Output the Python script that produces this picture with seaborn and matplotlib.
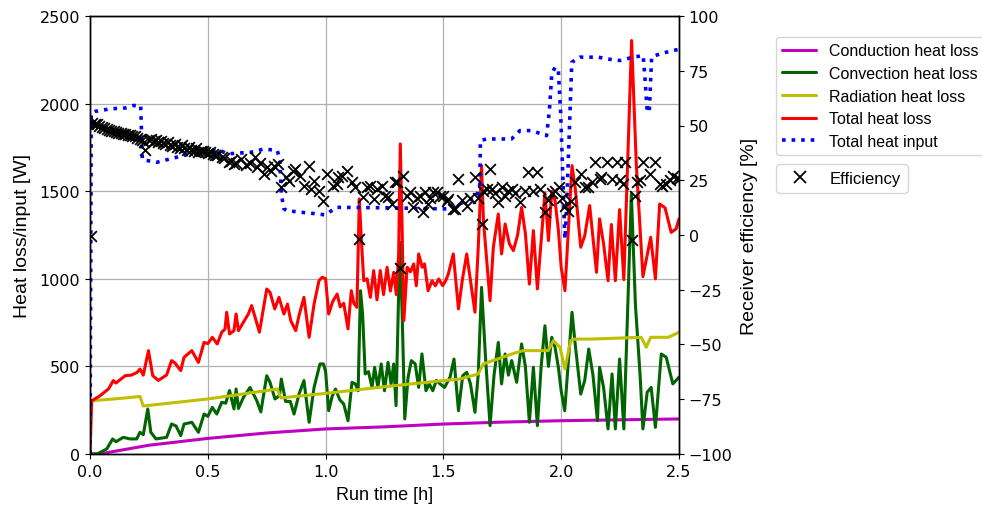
import matplotlib
matplotlib.use('Agg')
import matplotlib.pyplot as plt
import seaborn as sns
from matplotlib.lines import Line2D

# ---- data ----
t_cond = [0, 0.04, 0.25, 0.5, 0.75, 1.0, 1.25, 1.5, 1.75, 2.0, 2.25, 2.5]
w_cond = [0, 0, 50, 89, 120, 143, 155, 171, 182, 190, 195, 200]

t_conv = [0.0, 0.03, 0.071, 0.096, 0.11, 0.141, 0.17, 0.198, 0.212, 0.226, 0.245, 0.258, 0.28, 0.325,
          0.346, 0.365, 0.385, 0.399, 0.432, 0.46, 0.484, 0.5, 0.519, 0.538, 0.559, 0.576, 0.592, 0.611,
          0.62, 0.63, 0.651, 0.679, 0.708, 0.725, 0.75, 0.764, 0.785, 0.804, 0.812, 0.83, 0.85, 0.866,
          0.887, 0.908, 0.93, 0.951, 0.976, 0.991, 1.0, 1.013, 1.028, 1.042, 1.06, 1.077, 1.095, 1.112,
          1.126, 1.138, 1.148, 1.157, 1.168, 1.182, 1.197, 1.208, 1.222, 1.236, 1.25, 1.265, 1.278,
          1.289, 1.299, 1.315, 1.325, 1.336, 1.35, 1.364, 1.38, 1.395, 1.409, 1.426, 1.44, 1.455, 1.47,
          1.486, 1.505, 1.528, 1.545, 1.564, 1.582, 1.599, 1.615, 1.634, 1.648, 1.662, 1.678, 1.698,
          1.715, 1.733, 1.747, 1.762, 1.776, 1.79, 1.811, 1.832, 1.848, 1.865, 1.882, 1.899, 1.915,
          1.931, 1.946, 1.96, 1.974, 1.988, 2.0, 2.015, 2.046, 2.06, 2.083, 2.1, 2.117, 2.135, 2.154,
          2.163, 2.18, 2.199, 2.216, 2.23, 2.248, 2.266, 2.298, 2.315, 2.335, 2.347, 2.365, 2.382, 2.4,
          2.425, 2.446, 2.474, 2.5]
w_conv = [0, 0, 29, 86, 70, 95, 86, 86, 124, 110, 257, 124, 86, 95,
          171, 160, 105, 171, 181, 124, 228, 215, 266, 228, 295, 290, 362, 257,
          371, 260, 323, 380, 304, 240, 447, 409, 314, 333, 428, 300, 300, 228,
          342, 419, 181, 380, 514, 514, 470, 247, 330, 371, 310, 285, 190, 409,
          400, 361, 932, 799, 457, 470, 380, 495, 380, 514, 361, 523, 400,
          514, 276, 1208, 799, 200, 438, 533, 515, 380, 571, 361, 400, 361, 420,
          400, 380, 438, 542, 247, 447, 466, 400, 238, 457, 951, 570, 162,
          450, 637, 400, 571, 450, 533, 409, 628, 500, 181, 495, 162, 500,
          732, 500, 666, 609, 495, 361, 247, 809, 620, 342, 420, 599, 450, 190,
          495, 380, 143, 457, 143, 542, 143, 1484, 856, 450, 143, 352, 380, 152,
          571, 552, 400, 438]

t_rad = [0.007, 0.1, 0.212, 0.226, 0.5, 0.795, 0.81, 1.0, 1.25, 1.5, 1.57, 1.648, 1.669, 1.811,
         1.839, 1.945, 1.967, 1.995, 2.016, 2.04, 2.058, 2.128, 2.34, 2.361, 2.38, 2.455, 2.5]
w_rad = [304, 314, 328, 274, 314, 371, 320, 346, 384, 419, 428, 457, 514, 580,
         590, 590, 647, 609, 485, 647, 656, 656, 666, 609, 666, 666, 695]

t_total = [0.0, 0.007, 0.04, 0.078, 0.099, 0.11, 0.149, 0.175, 0.2, 0.212, 0.226, 0.248, 0.266, 0.29,
           0.325, 0.346, 0.36, 0.385, 0.399, 0.432, 0.46, 0.484, 0.5, 0.519, 0.54, 0.559, 0.573, 0.58,
           0.592, 0.611, 0.62, 0.63, 0.651, 0.672, 0.686, 0.705, 0.719, 0.75, 0.764, 0.784, 0.802,
           0.823, 0.838, 0.852, 0.873, 0.887, 0.908, 0.93, 0.951, 0.972, 0.986, 1.0, 1.013, 1.03,
           1.049, 1.062, 1.077, 1.095, 1.109, 1.12, 1.133, 1.143, 1.152, 1.162, 1.176, 1.19, 1.204,
           1.218, 1.232, 1.246, 1.261, 1.275, 1.289, 1.3, 1.31, 1.317, 1.325, 1.332, 1.346, 1.36,
           1.374, 1.385, 1.395, 1.41, 1.42, 1.435, 1.452, 1.466, 1.48, 1.497, 1.51, 1.521, 1.542,
           1.564, 1.58, 1.599, 1.615, 1.634, 1.648, 1.662, 1.67, 1.698, 1.712, 1.733, 1.747, 1.762,
           1.78, 1.797, 1.815, 1.832, 1.848, 1.865, 1.882, 1.899, 1.915, 1.931, 1.946, 1.96, 1.974,
           1.988, 2.0, 2.016, 2.046, 2.06, 2.083, 2.1, 2.121, 2.15, 2.163, 2.18, 2.199, 2.213, 2.23,
           2.248, 2.266, 2.299, 2.319, 2.347, 2.38, 2.4, 2.418, 2.441, 2.467, 2.488, 2.5]
w_total = [0, 304, 330, 371, 419, 405, 447, 450, 466, 485, 450, 590, 447, 420,
           451, 533, 520, 476, 552, 590, 523, 637, 630, 666, 628, 695, 713, 809,
           685, 704, 799, 704, 751, 799, 847, 761, 695, 942, 923, 828, 894,
           799, 856, 761, 704, 790, 894, 666, 856, 990, 1009, 1000, 799, 870,
           913, 840, 860, 714, 932, 860, 837, 1456, 1218, 989, 1000, 894, 1047,
           880, 1047, 910, 1066, 930, 1037, 910, 1142, 1770, 1275, 761, 1066, 1040,
           1085, 960, 1142, 1066, 1085, 932, 989, 960, 999, 961, 990, 1028, 1142,
           828, 990, 1142, 990, 809, 1180, 1646, 1332, 875, 1180, 1370, 1142, 1313,
           1200, 1161, 1250, 1408, 1260, 970, 1275, 942, 1218, 1490, 1218, 1500, 1446,
           1280, 1066, 932, 1646, 1513, 1180, 1246, 1418, 1037, 1342, 1200, 989, 1310, 989,
           1395, 995, 2360, 1650, 1012, 1237, 1000, 1427, 1405, 1265, 1285, 1342]

t_input = [0.0, 0.005, 0.02, 0.085, 0.15, 0.184, 0.215, 0.222, 0.283, 0.368, 0.453, 0.552, 0.583,
           0.682, 0.739, 0.795, 0.806, 0.812, 0.823, 0.835, 0.894, 0.934, 0.998, 1.047, 1.268, 1.497,
           1.528, 1.599, 1.641, 1.655, 1.657, 1.683, 1.789, 1.825, 1.874, 1.938, 1.95, 1.96, 1.974,
           1.988, 1.998, 2.016, 2.023, 2.045, 2.08, 2.158, 2.193, 2.25, 2.306, 2.348, 2.355, 2.365,
           2.374, 2.384, 2.419, 2.476, 2.5]
w_input = [0, 1945, 1955, 1970, 1975, 1989, 1989, 1680, 1665, 1694, 1722, 1732, 1713,
           1722, 1741, 1732, 1675, 1484, 1400, 1389, 1380, 1375, 1365, 1408, 1405, 1399,
           1400, 1446, 1465, 1541, 1789, 1798, 1798, 1846, 1846, 1817, 1960, 2169, 2208,
           2190, 1941, 1227, 1399, 2236, 2265, 2265, 2255, 2246, 2265, 2274, 2160, 1960,
           1950, 2265, 2284, 2303, 2310]

t_eff = [0.005, 0.01, 0.02, 0.03, 0.04, 0.05, 0.06, 0.07, 0.08, 0.09, 0.1, 0.11, 0.12, 0.13, 0.14,
         0.15, 0.16, 0.17, 0.18, 0.19, 0.2, 0.21, 0.22, 0.23, 0.235, 0.25, 0.26, 0.27, 0.28, 0.29,
         0.3, 0.31, 0.32, 0.33, 0.34, 0.35, 0.36, 0.37, 0.38, 0.39, 0.4, 0.41, 0.42, 0.43, 0.44, 0.45,
         0.46, 0.47, 0.48, 0.49, 0.5, 0.51, 0.52, 0.53, 0.54, 0.56, 0.57, 0.59, 0.6, 0.61, 0.62, 0.64,
         0.66, 0.68, 0.7, 0.71, 0.72, 0.74, 0.75, 0.77, 0.78, 0.8, 0.81, 0.83, 0.845, 0.86, 0.87,
         0.89, 0.91, 0.93, 0.94, 0.95, 0.97, 0.99, 1.006, 1.033, 1.049, 1.054, 1.07, 1.091, 1.11,
         1.126, 1.143, 1.16, 1.175, 1.189, 1.204, 1.22, 1.238, 1.25, 1.266, 1.282, 1.296, 1.302,
         1.316, 1.33, 1.345, 1.358, 1.373, 1.39, 1.402, 1.415, 1.42, 1.435, 1.445, 1.457, 1.473,
         1.486, 1.5, 1.514, 1.521, 1.542, 1.55, 1.563, 1.58, 1.599, 1.615, 1.634, 1.648, 1.662,
         1.67, 1.685, 1.698, 1.705, 1.72, 1.733, 1.747, 1.76, 1.775, 1.79, 1.805, 1.825, 1.845,
         1.86, 1.88, 1.896, 1.91, 1.931, 1.945, 1.96, 1.974, 1.992, 2.005, 2.015, 2.03, 2.043,
         2.06, 2.085, 2.1, 2.115, 2.13, 2.142, 2.165, 2.171, 2.193, 2.214, 2.235, 2.248, 2.264,
         2.271, 2.299, 2.315, 2.32, 2.335, 2.349, 2.376, 2.398, 2.419, 2.43, 2.445, 2.46, 2.476,
         2.49, 2.5]
e_eff = [-0.3, 51, 50.5, 50.5, 50, 49.5, 49, 48.5, 48, 47.5, 47.5, 47, 46.5, 46.5, 46,
         46, 45.5, 45.5, 45, 45, 44.5, 44, 43.5, 42.5, 39, 43.5, 44, 43, 43.5, 42.5,
         43, 42, 41.5, 42.5, 41, 40.5, 41.5, 40, 39.5, 41, 39.5, 39, 40, 39, 38.5, 39.5,
         38, 38.5, 38.5, 38, 37.5, 38, 37, 36.5, 36.5, 35.5, 35, 33.5, 34, 32.5, 33, 34.5,
         32, 33, 35.5, 30.9, 33, 27.8, 31, 29, 31.7, 32.4, 21.8, 26.3, 24.5, 29.4, 30.1,
         27.1, 22.5, 31.7, 21, 24.8, 20.2, 15.7, 27.8, 22.5, 23.3, 26.3, 27.1, 29.4, 24,
         21.8, -2, 17.2, 22, 22.5, 16.4, 21, 22.5, 18, 17.2, 14.2, 24, 24,
         -15, 27.1, 18, 19.5, 12.6, 17, 18, 10.3, 19.5, 14, 17, 19.5, 19.5,
         18, 18, 15.7, 16.4, 11.9, 11.9, 25.6, 16, 13.4, 17, 26.3, 17, 5,
         20, 21, 30.1, 21, 19, 14.9, 21.8, 18, 20, 21, 19, 14.9, 20,
         28.6, 20, 28.6, 21, 10.3, 16, 19, 20.2, 21.8, 17, 13.4, 11, 15.7,
         24, 27.8, 22, 21.8, 24, 33.2, 25.6, 26.3, 33.2, 25.6, 33.2, 25, 23.3,
         33.2, -2.5, 18, 24, 25, 33.2, 27.8, 33.2, 23.3, 22.5, 23.5, 25, 27.1,
         26, 25.6]

sns.set_style('ticks')
plt.rcParams['font.family'] = ['DejaVu Sans']
plt.rcParams.update({'text.color': 'black', 'axes.labelcolor': 'black',
                     'xtick.color': 'black', 'ytick.color': 'black'})

fig, ax = plt.subplots(figsize=(9.82, 5.06), dpi=100)
fig.subplots_adjust(left=0.0917, right=0.6914, top=0.9664, bottom=0.1008)

ax.grid(True, color='#b0b0b0', lw=0.9)
ax.set_axisbelow(True)

lw = 2.2
sns.lineplot(x=t_cond, y=w_cond, color='m', lw=lw, ax=ax, estimator=None, sort=False)
sns.lineplot(x=t_conv, y=w_conv, color='darkgreen', lw=lw, ax=ax, estimator=None, sort=False)
sns.lineplot(x=t_rad, y=w_rad, color='y', lw=lw, ax=ax, estimator=None, sort=False)
sns.lineplot(x=t_total, y=w_total, color='r', lw=lw, ax=ax, estimator=None, sort=False)
sns.lineplot(x=t_input, y=w_input, color='b', lw=2.6, ls=':', ax=ax, estimator=None, sort=False)

ax.set_xlim(0, 2.5)
ax.set_ylim(0, 2500)
ax.set_xticks([0, 0.5, 1.0, 1.5, 2.0, 2.5])
ax.set_yticks([0, 500, 1000, 1500, 2000, 2500])
ax.tick_params(labelsize=11.5)
ax.set_xlabel('Run time [h]', fontsize=13, family='Liberation Sans', labelpad=5)
ax.set_ylabel('Heat loss/input [W]', fontsize=14, family='Liberation Sans', labelpad=6)

ax2 = ax.twinx()
sns.scatterplot(x=t_eff, y=e_eff, marker='x', color='black', s=60, linewidth=1.3, ax=ax2)
ax2.set_ylim(-100, 100)
ax2.set_yticks([-100, -75, -50, -25, 0, 25, 50, 75, 100])
ax2.tick_params(labelsize=11.5)
ax2.set_ylabel('Receiver efficiency [%]', fontsize=14, family='Liberation Sans', labelpad=6)

for a in (ax, ax2):
    for s in a.spines.values():
        s.set_color('black')
        s.set_linewidth(1.0)

loss_handles = [
    Line2D([], [], color='m', lw=lw),
    Line2D([], [], color='darkgreen', lw=lw),
    Line2D([], [], color='y', lw=lw),
    Line2D([], [], color='r', lw=lw),
    Line2D([], [], color='b', lw=2.6, ls=':'),
]
loss_labels = ['Conduction heat loss', 'Convection heat loss', 'Radiation heat loss',
               'Total heat loss', 'Total heat input']
leg1 = fig.legend(loss_handles, loss_labels, loc='upper left', bbox_to_anchor=(0.782, 0.941),
                  prop={'family': 'Liberation Sans', 'size': 11.5}, labelspacing=0.48,
                  handlelength=2.1)
eff_handle = [Line2D([], [], color='black', marker='x', ls='', markersize=8, mew=1.3)]
leg2 = fig.legend(eff_handle, ['Efficiency'], loc='upper left', bbox_to_anchor=(0.782, 0.69),
                  prop={'family': 'Liberation Sans', 'size': 12})

fig.savefig('out.png', dpi=100)
